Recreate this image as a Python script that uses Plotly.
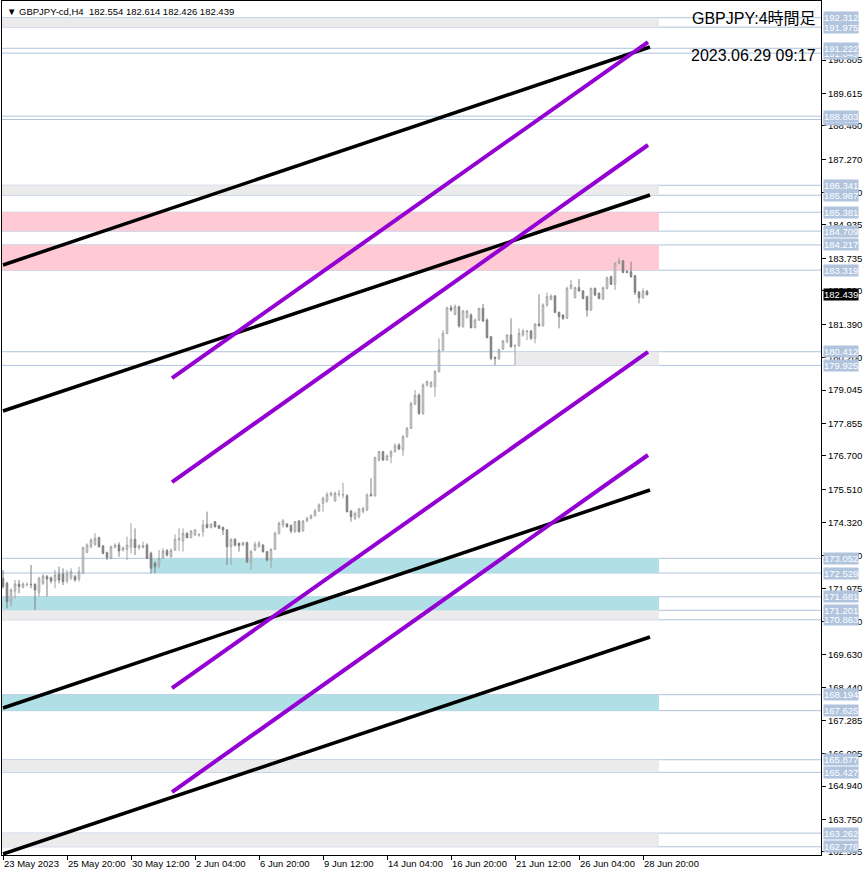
import plotly.graph_objects as go

# ---------------- data ----------------
bar_open = [172.340,172.162,171.508,171.888,172.138,172.019,172.114,172.126,172.126,171.841,
            172.162,172.399,172.363,172.245,172.482,172.494,172.245,172.363,172.399,172.316,
            172.518,173.266,173.468,173.551,173.788,173.491,173.254,173.052,173.444,173.527,
            173.349,173.373,173.456,173.729,173.432,173.444,173.527,173.230,172.874,172.814,
            173.052,173.325,173.111,173.349,173.705,173.670,173.943,173.788,173.883,173.883,
            174.002,174.263,174.145,174.358,174.216,174.156,174.061,173.468,173.729,173.586,
            173.527,173.610,172.933,173.349,173.468,173.527,173.290,172.993,173.373,173.943,
            174.240,174.275,174.216,174.002,174.382,174.026,174.382,174.477,174.572,174.738,
            175.011,175.070,175.308,175.094,175.332,175.308,175.284,174.738,174.477,174.536,
            174.714,174.774,175.332,175.284,176.555,176.852,176.555,176.674,176.852,177.089,
            176.911,177.386,177.683,178.538,178.871,178.217,179.227,179.167,179.167,179.702,
            180.474,181.067,181.982,181.744,182.017,181.305,181.626,181.721,181.269,181.542,
            181.958,181.542,180.949,180.212,180.177,180.509,180.770,181.008,180.616,180.628,
            181.008,181.127,181.150,180.889,181.400,181.340,182.077,182.279,182.397,181.816,
            181.721,181.602,182.671,182.338,182.694,182.576,182.374,181.899,182.671,182.492,
            182.291,182.671,183.086,182.813,183.561,183.644,183.264,183.264,183.122,182.528,
            182.338,182.554]
bar_high = [172.636,172.221,171.983,172.280,172.280,172.197,172.197,172.814,172.162,172.399,
            172.482,172.458,172.399,172.636,172.755,172.696,172.636,172.696,172.458,172.755,
            173.468,173.586,173.765,173.943,173.824,173.527,173.290,173.503,173.586,173.622,
            173.468,173.824,174.299,174.121,173.551,173.646,173.586,173.290,172.933,173.349,
            173.408,173.385,173.408,173.907,174.121,174.121,173.978,174.061,174.097,173.943,
            174.418,174.715,174.299,174.382,174.240,174.180,174.097,173.765,173.765,173.622,
            173.646,173.646,173.349,173.646,173.670,173.551,173.313,173.408,174.002,174.358,
            174.453,174.299,174.263,174.382,174.418,174.418,174.536,174.620,174.810,175.011,
            175.249,175.403,175.427,175.427,175.486,175.747,175.332,174.774,174.714,174.857,
            174.892,175.367,175.902,176.674,176.887,176.876,176.757,176.911,177.149,177.149,
            177.446,177.742,178.633,179.049,178.930,179.286,179.393,179.369,179.761,180.889,
            181.186,182.017,182.077,182.101,182.053,181.899,181.899,181.780,181.602,181.982,
            182.112,181.602,180.972,180.236,180.533,180.830,181.032,181.602,180.675,181.246,
            181.222,181.186,181.186,181.424,182.457,182.136,182.528,182.457,182.433,181.839,
            181.744,182.730,182.967,182.730,183.003,182.611,182.409,182.694,182.694,182.528,
            182.730,183.086,183.122,183.597,183.763,183.680,183.324,183.621,183.146,182.576,
            182.671,182.614]
bar_low = [171.983,171.271,171.330,171.627,171.805,171.983,172.043,171.983,171.211,171.687,
           172.102,171.687,172.162,171.983,172.162,172.102,172.162,172.280,172.221,172.221,
           172.482,173.230,173.408,173.503,173.432,173.195,172.993,173.016,173.408,173.111,
           173.290,172.993,173.230,173.171,173.349,173.408,173.028,172.518,172.518,172.696,
           173.028,173.111,173.076,173.313,173.313,173.290,173.765,173.765,173.848,173.824,
           173.824,174.121,174.121,174.145,174.097,173.883,172.814,172.814,173.468,173.290,
           173.491,172.874,172.636,173.313,173.432,173.254,172.933,172.696,173.349,173.907,
           174.145,174.145,173.943,173.966,173.966,174.002,174.334,174.441,174.536,174.715,
           174.714,175.047,175.249,175.070,175.249,175.189,174.690,174.358,174.417,174.477,
           174.655,174.738,175.249,175.249,176.496,176.519,176.519,176.436,176.816,176.911,
           176.697,177.351,177.659,178.514,178.158,178.158,179.167,179.132,178.811,179.678,
           180.438,181.032,181.839,181.721,181.269,181.269,181.602,181.246,181.246,181.507,
           181.483,180.889,180.117,179.939,180.117,180.474,180.711,180.557,179.939,180.592,
           180.949,180.830,180.830,180.711,181.305,181.305,182.017,182.243,181.780,181.246,
           181.542,181.578,182.635,182.314,182.552,182.279,181.661,181.863,182.397,182.279,
           182.255,182.635,182.789,182.611,183.526,183.205,183.205,183.051,182.433,182.136,
           182.291,182.426]
bar_close = [172.043,171.508,171.924,172.138,172.043,172.138,172.126,172.114,171.924,172.340,
             172.423,172.316,172.245,172.458,172.280,172.221,172.518,172.577,172.280,172.577,
             173.432,173.527,173.705,173.765,173.468,173.230,173.076,173.468,173.527,173.313,
             173.432,173.527,173.729,173.432,173.503,173.503,173.052,172.696,172.755,173.052,
             173.313,173.171,173.337,173.729,173.765,173.943,173.788,174.026,174.061,173.895,
             174.240,174.145,174.263,174.180,174.121,174.061,173.468,173.729,173.527,173.503,
             173.610,172.933,173.290,173.551,173.586,173.290,172.993,173.373,173.943,174.299,
             174.382,174.180,174.026,174.358,174.002,174.382,174.477,174.572,174.738,174.952,
             175.189,175.332,175.367,175.367,175.344,175.320,174.714,174.536,174.655,174.809,
             174.833,175.308,175.284,176.638,176.852,176.555,176.697,176.852,177.066,176.947,
             177.386,177.683,178.574,178.871,178.217,179.227,179.346,179.310,179.702,180.474,
             181.067,181.982,181.899,182.017,181.329,181.863,181.863,181.269,181.542,181.958,
             181.507,180.913,180.177,180.177,180.474,180.794,181.008,180.592,180.628,181.067,
             181.150,181.150,180.889,181.400,181.340,182.077,182.374,182.397,181.816,181.661,
             181.602,182.671,182.789,182.694,182.576,182.314,181.899,182.671,182.433,182.314,
             182.694,183.051,182.813,183.561,183.644,183.241,183.241,183.086,182.528,182.338,
             182.576,182.439]
bar_index = list(range(len(bar_open)))

time_tick_bar = [0, 16, 32, 48, 64, 80, 96, 112, 128, 144, 160]
time_tick_text = ["23 May 2023", "25 May 20:00", "30 May 12:00", "2 Jun 04:00", "6 Jun 20:00",
                  "9 Jun 12:00", "14 Jun 04:00", "16 Jun 20:00", "21 Jun 12:00",
                  "26 Jun 04:00", "28 Jun 20:00"]

price_ticks = [190.805, 189.615, 188.460, 187.270, 186.080, 184.935, 183.735, 182.590,
               181.390, 180.200, 179.045, 177.855, 176.700, 175.510, 174.320, 173.150,
               171.975, 170.800, 169.630, 168.440, 167.285, 166.095, 164.940, 163.750, 162.595]

# horizontal zones (price levels)
zone_top =    [191.222, 188.803, 192.312, 186.341, 185.381, 184.217, 180.412, 173.052, 171.681, 171.201, 168.194, 165.877, 163.262]
zone_bottom = [191.049, 188.685, 191.975, 185.987, 184.709, 183.319, 179.925, 172.529, 171.201, 170.863, 167.625, 165.427, 162.776]
zone_kind =   ["none", "none", "gray", "gray", "pink", "pink", "gray", "blue", "blue", "gray", "blue", "gray", "gray"]
zone_start_bar = [None, None, None, None, None, None, 128, 37, None, None, None, None, None]
zone_end_bar = 164

# trend channels (bar index, price)
black_start_bar, black_end_bar = 0, 161.75
black_start_price = [183.502, 178.301, 167.720, 162.518]
black_end_price = [191.268, 185.996, 175.486, 170.249]
purple_start_bar, purple_end_bar = 42.25, 161.25
purple_start_price = [179.476, 175.771, 168.432, 164.727]
purple_end_price = [191.446, 187.777, 180.403, 176.733]

symbol = "GBPJPY-cd,H4"
title_main = "GBPJPY:4時間足"
title_time = "2023.06.29 09:17"

# ---------------- styles ----------------
FONT = "Liberation Sans, Noto Sans CJK JP, DejaVu Sans"
zone_fill = {"gray": "#EBEBEB", "pink": "#FFCAD3", "blue": "#B0DFE5"}
level_color = "#B0C4DE"

fig = go.Figure()

shapes = []
for top, bot, kind, start in zip(zone_top, zone_bottom, zone_kind, zone_start_bar):
    if kind != "none":
        shapes.append(dict(type="rect", xref="x", yref="y",
                           x0=(start if start is not None else -1), x1=zone_end_bar,
                           y0=bot, y1=top, fillcolor=zone_fill[kind],
                           line=dict(width=0), layer="below"))
levels = sorted(set(zone_top + zone_bottom))
for v in levels:
    shapes.append(dict(type="line", xref="paper", yref="y", x0=0, x1=1, y0=v, y1=v,
                       line=dict(color=level_color, width=1), layer="below"))

fig.add_trace(go.Candlestick(
    x=bar_index, open=bar_open, high=bar_high, low=bar_low, close=bar_close,
    increasing=dict(line=dict(color="#A0A0A0", width=1), fillcolor="#FFFFFF"),
    decreasing=dict(line=dict(color="#7F7F7F", width=1), fillcolor="#7F7F7F"),
    whiskerwidth=0, showlegend=False, hoverinfo="skip"))

for p0, p1 in zip(black_start_price, black_end_price):
    fig.add_trace(go.Scatter(x=[black_start_bar, black_end_bar], y=[p0, p1], mode="lines",
                             line=dict(color="#000000", width=3.5), showlegend=False,
                             hoverinfo="skip"))
for p0, p1 in zip(purple_start_price, purple_end_price):
    fig.add_trace(go.Scatter(x=[purple_start_bar, purple_end_bar], y=[p0, p1], mode="lines",
                             line=dict(color="#9400D3", width=4), showlegend=False,
                             hoverinfo="skip"))

annotations = []
for v in levels:  # ascending: higher levels drawn on top
    annotations.append(dict(xref="paper", x=1, xanchor="left", xshift=2, yref="y", y=v,
                            yanchor="middle", text=f"{v:.3f}", showarrow=False,
                            bgcolor=level_color, borderpad=0,
                            font=dict(family=FONT, size=9.5, color="#FFFFFF")))
annotations.append(dict(xref="paper", x=1, xanchor="left", xshift=2, yref="y", y=bar_close[-1],
                        yanchor="middle", text=f"{bar_close[-1]:.3f}", showarrow=False,
                        bgcolor="#000000", borderpad=0,
                        font=dict(family=FONT, size=9.5, color="#FFFFFF")))
header = ("\u25BC " + symbol + "\u00a0\u00a0" +
          f"{bar_open[-1]:.3f} {bar_high[-1]:.3f} {bar_low[-1]:.3f} {bar_close[-1]:.3f}")
annotations.append(dict(xref="paper", x=0, xanchor="left", xshift=3, yref="paper", y=1,
                        yanchor="top", yshift=-3, text=header, showarrow=False,
                        font=dict(family=FONT, size=9.5, color="#000000")))
annotations.append(dict(xref="paper", x=1, xanchor="right", xshift=-3, yref="paper", y=0.979,
                        yanchor="middle", text=title_main, showarrow=False,
                        font=dict(family=FONT, size=16, color="#000000")))
annotations.append(dict(xref="paper", x=1, xanchor="right", xshift=-3, yref="paper", y=0.9356,
                        yanchor="middle", text=title_time, showarrow=False,
                        font=dict(family=FONT, size=16, color="#000000")))

fig.update_layout(
    width=866, height=876,
    margin=dict(l=2, r=45, t=1, b=21, autoexpand=False),
    paper_bgcolor="#FFFFFF", plot_bgcolor="#FFFFFF",
    boxgap=0.45,
    shapes=shapes, annotations=annotations,
    showlegend=False,
    xaxis=dict(range=[-0.25, 204.5], tickvals=time_tick_bar, ticktext=time_tick_text,
               ticks="outside", ticklen=4, tickcolor="#000000", tickangle=0,
               ticklabelposition="outside right", automargin=False,
               showgrid=False, zeroline=False, showline=True, linecolor="#000000",
               linewidth=1, mirror=True, rangeslider=dict(visible=False),
               tickfont=dict(family=FONT, size=9.5, color="#000000")),
    yaxis=dict(range=[162.483, 192.907], side="right", tickvals=price_ticks,
               ticktext=[f"{v:.3f}" for v in price_ticks], automargin=False,
               ticks="outside", ticklen=4, tickcolor="#000000",
               showgrid=False, zeroline=False, showline=True, linecolor="#000000",
               linewidth=1, mirror=True,
               tickfont=dict(family=FONT, size=9.5, color="#000000")),
)

fig.write_html("out.html", config={"displayModeBar": False},
               post_script="document.body.style.margin='0';document.body.style.padding='0';")
